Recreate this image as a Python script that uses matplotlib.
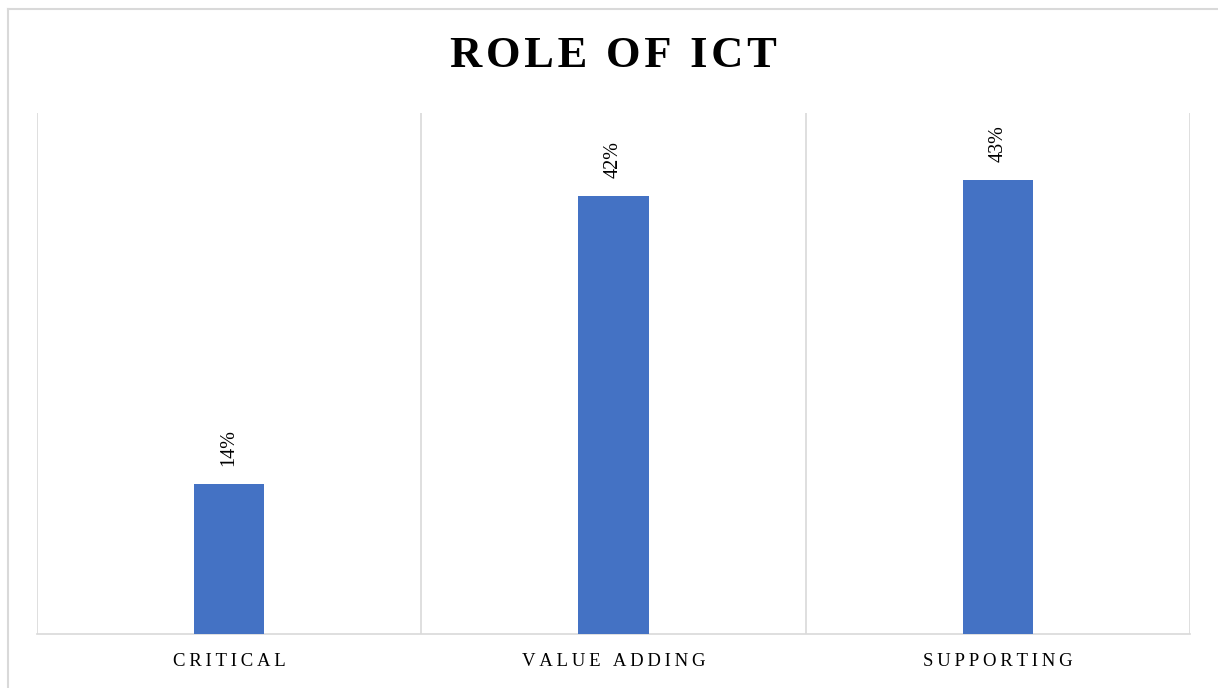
import matplotlib
matplotlib.use("Agg")
import matplotlib.pyplot as plt
from matplotlib.lines import Line2D

categories = ["CRITICAL", "VALUE ADDING", "SUPPORTING"]
values = [14.4, 42.0, 43.6]
labels = ["14%", "42%", "43%"]
title = "ROLE OF ICT"

W, H = 1218, 688
SERIF = ["Liberation Serif", "DejaVu Serif"]
fig = plt.figure(figsize=(W / 100, H / 100), dpi=100)
fig.patch.set_facecolor("white")

# outer chart border (only left & top visible in the crop)
fig.add_artist(Line2D([8 / W, 8 / W], [0, 1 - 9 / H], transform=fig.transFigure,
                      color="#d9d9d9", lw=1.5))
fig.add_artist(Line2D([8 / W, 1], [1 - 9 / H, 1 - 9 / H], transform=fig.transFigure,
                      color="#d9d9d9", lw=1.5))

ax = fig.add_axes([37 / W, 1 - 634 / H, (1190 - 37) / W, (634 - 113) / H])
x = list(range(len(categories)))
ax.bar(x, values, width=0.183, color="#4472C4", zorder=3)
ax.set_xlim(-0.5, len(categories) - 0.5)
ax.set_ylim(0, 50)

for b in [i - 0.5 for i in range(len(categories) + 1)]:
    ax.axvline(b, color="#d9d9d9", lw=1.2, zorder=1)

for s in ["top", "left", "right"]:
    ax.spines[s].set_visible(False)
ax.spines["bottom"].set_color("#d9d9d9")
ax.spines["bottom"].set_linewidth(1.2)
ax.set_yticks([])
ax.set_xticks(x)
ax.set_xticklabels(["\u2009".join(c) for c in categories], family=SERIF,
                   fontsize=13.5, color="black")
ax.tick_params(axis="x", length=0, pad=14)

for xi, v, lab in zip(x, values, labels):
    ax.annotate(lab, (xi, v), xytext=(0, 13), textcoords="offset points",
                rotation=90, ha="center", va="bottom", family=SERIF,
                fontsize=14.5, color="black")

fig.text(613 / W, 1 - 56 / H, "\u200a".join(title),
         ha="center", va="center", family=SERIF, fontweight="bold",
         fontsize=32, color="black")

fig.savefig("out.png", dpi=100)
